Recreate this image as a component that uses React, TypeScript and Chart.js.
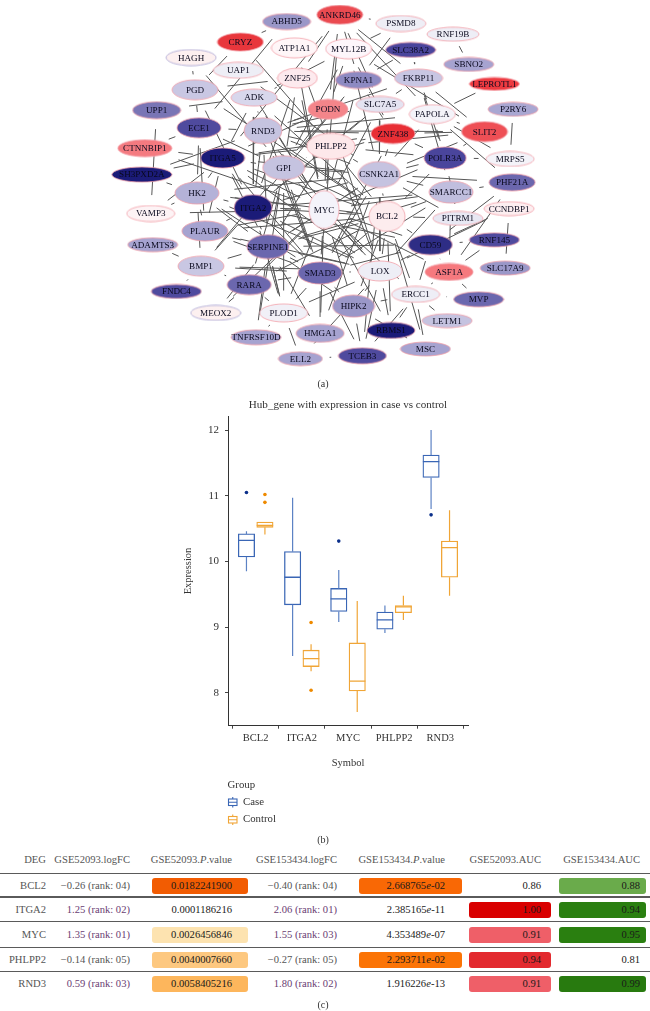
import React, { useEffect, useRef } from "react";
import { Chart, registerables } from "chart.js";

Chart.register(...registerables);

const SERIF = '"Liberation Serif", serif';

// ---------- network (a) ----------
const nodeNames = ["ABHD5","ANKRD46","CRYZ","ATP1A1","HAGH","UAP1","MYL12B","PSMD8","RNF19B","SLC38A2","SBNO2","LEPROTL1","ZNF25","PGD","ADK","KPNA1","FKBP11","P2RY6","UPP1","ECE1","RND3","PODN","SLC7A5","PAPOLA","ZNF438","SLIT2","CTNNBIP1","ITGA5","GPI","PHLPP2","CSNK2A1","POLR3A","MRPS5","PHF21A","SH3PXD2A","HK2","VAMP3","ITGA2","MYC","BCL2","SMARCC1","PITRM1","CCNDBP1","PLAUR","ADAMTS3","SERPINE1","CD59","RNF145","BMP1","LOX","ASF1A","SLC17A9","SMAD3","RARA","FNDC4","MEOX2","PLOD1","ERCC1","MVP","HIPK2","LETM1","TNFRSF10D","HMGA1","RBMS1","ELL2","TCEB3","MSC"];
const nodeX = [286,340,239,294,189,237,349,402,455,412,471,497,297,193,253,359,420,516,154,197,262,328,381,434,394,487,142,221,283,331,380,447,513,515,139,195,148,252,324,388,453,460,512,203,150,267,432,497,199,381,451,508,320,248,174,214,283,417,481,354,449,255,320,392,300,363,427];
const nodeY = [17,10,38,44,54,67,45,19,30,46,61,81,75,87,95,77,75,107,108,126,129,107,102,112,132,130,147,157,167,145,174,157,158,182,174,193,214,208,210,217,192,219,209,232,246,248,246,241,268,273,274,270,275,287,294,316,316,297,302,309,324,341,337,334,363,360,353];
const nodeRx = [24,23,23,23,25,25,23,25,26,25,25,25,20,23,23,23,24,25,24,22,19,20,24,23,22,23,27,22,21,24,21,21,24,23,30,22,24,19,15,18,22,25,25,23,25,21,22,25,23,22,24,25,22,22,25,25,24,24,25,21,25,25,24,24,22,24,25];
const nodeRy = [8,9.5,9,10,8,8,10,8,7,7.5,7,6.5,10,10,8.5,8.5,9,7,8.5,10,13,10,8,9.5,10,10,8.5,10,12,13,13,11,7.5,8.5,7.5,11,8,13,19,15,11,7,7,10,7,12,10,7,10,10,8.5,7,11,10,7,7.5,9,8,7.5,11,7,7.5,9,8,7,8,7];
const nodeFill = ["#9a97c8","#ea4a50","#e8363c","#fff6f8","#fdf0f0","#eeeef6","#fdf6fb","#eeeef6","#eeeef6","#4a459c","#a6a3d0","#ee3a40","#fdeaee","#c9c7e3","#d8d7ec","#8d8ac2","#c8c6e3","#a9a7d2","#7975b5","#4f4a9e","#c5c3e0","#f4858a","#e4e3f1","#f4f3f9","#e82f35","#ee4f55","#f47a80","#1b1b78","#c5c3e0","#fde8ea","#c5c3e0","#4a459c","#f4f3f9","#6b67ae","#1b1b78","#b4b2d8","#fdf3f5","#1b1b78","#f4f3fa","#fdecee","#c0bede","#e8e8f3","#fdeef0","#a6a3d0","#a6a3d0","#6b67ae","#2e2d85","#4f4a9e","#c9c7e3","#eeeef6","#f6797e","#9a97c8","#6b67ae","#6b67ae","#4f4a9e","#fdf0f0","#f1f0f7","#eeeef6","#6b67ae","#9a97c8","#c5c3e0","#a6a3d0","#a6a3d0","#1b1b78","#a6a3d0","#4f4a9e","#a6a3d0"];
const edgeList = [
"CRYZ-ABHD5","ABHD5-ATP1A1","ABHD5-ECE1","CRYZ-PGD","CRYZ-PHLPP2","HAGH-PGD","HAGH-GPI","UAP1-CSNK2A1","UAP1-MYC","ATP1A1-ZNF25","ATP1A1-PHLPP2","ATP1A1-MYC","ZNF25-ADK","ZNF25-GPI","ZNF25-ITGA2","ZNF25-PGD","ZNF25-MYC","PGD-ECE1","PGD-ITGA2","PGD-BCL2","UPP1-ECE1","UPP1-ADK","UPP1-VAMP3","CTNNBIP1-ITGA5","CTNNBIP1-ECE1","CTNNBIP1-MYC","SH3PXD2A-ITGA5","SH3PXD2A-HK2","SH3PXD2A-RND3","ECE1-HK2","ECE1-PLAUR","ECE1-RND3","ECE1-GPI","VAMP3-HK2","VAMP3-MYC","VAMP3-ITGA5","PLAUR-HK2","HK2-BMP1","HK2-ITGA5","HK2-MYC","BMP1-FNDC4","BMP1-ADAMTS3","BMP1-RARA","BMP1-SMAD3","BMP1-ITGA2","BMP1-SERPINE1","BMP1-GPI","BMP1-LOX","RARA-MEOX2","MEOX2-SERPINE1","MEOX2-MYC","RARA-SMAD3","RARA-GPI","RARA-PLOD1","RARA-BCL2","RARA-MYC","PLOD1-TNFRSF10D","TNFRSF10D-SERPINE1","TNFRSF10D-GPI","PLOD1-HMGA1","PLOD1-SERPINE1","PLOD1-GPI","PLOD1-ITGA2","PLOD1-MYC","ELL2-TCEB3","ELL2-PLOD1","HMGA1-MYC","HMGA1-SMAD3","HMGA1-CSNK2A1","TCEB3-ERCC1","TCEB3-HIPK2","TCEB3-LOX","TCEB3-SMAD3","TCEB3-CSNK2A1","RBMS1-LOX","RBMS1-ERCC1","RBMS1-BCL2","RBMS1-MYC","MSC-ERCC1","MSC-HIPK2","MSC-BCL2","HIPK2-LOX","HIPK2-ERCC1","HIPK2-MYC","HIPK2-BCL2","ERCC1-MVP","ERCC1-LETM1","ERCC1-ASF1A","ERCC1-CD59","ERCC1-MYC","ERCC1-BCL2","ASF1A-MVP","ASF1A-RNF145","ASF1A-PHF21A","ASF1A-CD59","ASF1A-SMARCC1","ASF1A-MYC","SLC17A9-CCNDBP1","P2RY6-MRPS5","MRPS5-PHF21A","MRPS5-POLR3A","MRPS5-PAPOLA","PHF21A-SMARCC1","PHF21A-CSNK2A1","PHF21A-CD59","CCNDBP1-LOX","CCNDBP1-CD59","RNF145-CD59","PITRM1-SMARCC1","PITRM1-CSNK2A1","PITRM1-POLR3A","POLR3A-SLIT2","POLR3A-CSNK2A1","POLR3A-ZNF438","POLR3A-PHLPP2","POLR3A-BCL2","POLR3A-MYC","LEPROTL1-PAPOLA","SBNO2-RNF19B","PSMD8-ANKRD46","PSMD8-MYL12B","PSMD8-KPNA1","SLC38A2-FKBP11","SLC38A2-KPNA1","FKBP11-SLIT2","FKBP11-SMARCC1","FKBP11-PAPOLA","FKBP11-POLR3A","FKBP11-SLC7A5","FKBP11-RND3","KPNA1-SLC7A5","KPNA1-ANKRD46","KPNA1-ZNF438","KPNA1-MYC","KPNA1-ITGA2","KPNA1-GPI","PAPOLA-SLIT2","PAPOLA-ZNF438","PAPOLA-POLR3A","PAPOLA-PHF21A","PAPOLA-RND3","PAPOLA-CSNK2A1","ANKRD46-MYC","ANKRD46-FKBP11","ANKRD46-SLC7A5","ANKRD46-PODN","ANKRD46-PAPOLA","ANKRD46-ZNF25","ANKRD46-ITGA5","MYL12B-GPI","MYL12B-CSNK2A1","MYL12B-ZNF438","MYL12B-PODN","MYL12B-SLIT2","MYL12B-ADK","SLIT2-ZNF438","SLIT2-RND3","SLIT2-PHLPP2","SLIT2-CSNK2A1","ZNF438-RND3","ZNF438-GPI","ZNF438-PHLPP2","ZNF438-ITGA5","ZNF438-CSNK2A1","ZNF438-SMAD3","PODN-MYC","PODN-ITGA5","PODN-RND3","PODN-LOX","PODN-GPI","SLC7A5-MYC","SLC7A5-ITGA2","SLC7A5-PHLPP2","SLC7A5-CSNK2A1","SLC7A5-RND3","ADK-RND3","ADK-ITGA5","ADK-MYC","ADK-ITGA2","ADK-BCL2","ADK-SMAD3","RND3-GPI","RND3-MYC","RND3-BCL2","RND3-ITGA2","RND3-PHLPP2","RND3-CSNK2A1","RND3-SERPINE1","RND3-SMAD3","RND3-LOX","ITGA5-ITGA2","ITGA5-SERPINE1","ITGA5-GPI","ITGA5-MYC","ITGA5-BCL2","ITGA5-CSNK2A1","ITGA5-SMAD3","ITGA5-LOX","ITGA5-PLAUR","ITGA5-PHLPP2","GPI-ITGA2","GPI-MYC","GPI-BCL2","GPI-CSNK2A1","GPI-SERPINE1","GPI-SMAD3","GPI-PHLPP2","GPI-LOX","PHLPP2-MYC","PHLPP2-BCL2","PHLPP2-CSNK2A1","PHLPP2-ITGA2","PHLPP2-SERPINE1","PHLPP2-SMAD3","PHLPP2-LOX","CSNK2A1-MYC","CSNK2A1-BCL2","CSNK2A1-ITGA2","CSNK2A1-SERPINE1","CSNK2A1-SMAD3","CSNK2A1-SMARCC1","CSNK2A1-LOX","CSNK2A1-HK2","HK2-ITGA2","HK2-SERPINE1","HK2-SMAD3","HK2-BCL2","HK2-LOX","ITGA2-SERPINE1","ITGA2-MYC","ITGA2-BCL2","ITGA2-SMAD3","ITGA2-LOX","ITGA2-PLAUR","ITGA2-SMARCC1","ITGA2-CD59","MYC-SERPINE1","MYC-BCL2","MYC-SMAD3","MYC-LOX","MYC-SMARCC1","MYC-CD59","MYC-PLAUR","BCL2-SERPINE1","BCL2-SMAD3","BCL2-LOX","BCL2-CD59","BCL2-SMARCC1","BCL2-PITRM1","SMARCC1-LOX","SMARCC1-SMAD3","SMARCC1-SERPINE1","CD59-LOX","CD59-SMAD3","CD59-SERPINE1","PLAUR-SERPINE1","PLAUR-SMAD3","PLAUR-BCL2","PLAUR-LOX","SERPINE1-SMAD3","SERPINE1-LOX","SERPINE1-PLOD1","SERPINE1-HIPK2","SERPINE1-HMGA1","SMAD3-LOX","SMAD3-HIPK2","SMAD3-PLOD1","LOX-PLOD1","LOX-ELL2"
];

// ---------- boxplot (b) ----------
const symbols = ["BCL2","ITGA2","MYC","PHLPP2","RND3"];
const groups = ["Case","Control"];
const caseUpper = [10.46,10.97,9.87,9.33,12.0];
const caseQ3 = [10.42,10.15,9.59,9.23,11.62];
const caseMedian = [10.32,9.76,9.43,9.11,11.52];
const caseQ1 = [10.07,9.34,9.24,8.97,11.28];
const caseLower = [9.85,8.56,9.08,8.91,10.80];
const caseOutliers = [[1,11.05],[3,10.31],[5,10.71]];
const controlUpper = [10.60,8.74,9.40,9.48,10.78];
const controlQ3 = [10.60,8.65,8.76,9.33,10.31];
const controlMedian = [10.55,8.52,8.18,9.31,10.21];
const controlQ1 = [10.52,8.40,8.03,9.22,9.76];
const controlLower = [10.41,8.33,7.71,9.11,9.48];
const controlOutliers = [[1,11.02],[1,10.90],[2,9.07],[2,8.04]];

// ---------- table (c) ----------
const tableHeaders = ["DEG","GSE52093.logFC","GSE52093.P.value","GSE153434.logFC","GSE153434.P.value","GSE52093.AUC","GSE153434.AUC"];
const degNames = ["BCL2","ITGA2","MYC","PHLPP2","RND3"];
const logFC52093 = ["−0.26 (rank: 04)","1.25 (rank: 02)","1.35 (rank: 01)","−0.14 (rank: 05)","0.59 (rank: 03)"];
const pValue52093 = ["0.0182241900","0.0001186216","0.0026456846","0.0040007660","0.0058405216"];
const logFC153434 = ["−0.40 (rank: 04)","2.06 (rank: 01)","1.55 (rank: 03)","−0.27 (rank: 05)","1.80 (rank: 02)"];
const pValue153434 = ["2.668765e-02","2.385165e-11","4.353489e-07","2.293711e-02","1.916226e-13"];
const auc52093 = ["0.86","1.00","0.91","0.94","0.91"];
const auc153434 = ["0.88","0.94","0.95","0.81","0.99"];
const p1Colors = ["#f25c02","","#fde3b0","#fdc880","#fdb65c"];
const p2Colors = ["#f96805","","","#fb7406",""];
const a1Colors = ["","#d90000","#ef5f68","#e32a2f","#ef5f68"];
const a2Colors = ["#6aab4b","#2a7f10","#2a7f10","","#287a0f"];

function nodeIndex(name: string) { return nodeNames.indexOf(name); }

function trimmedEdgePoints() {
  const pts: { x: number; y: number }[] = [];
  edgeList.forEach((e) => {
    const [a, b] = e.split("-").map(nodeIndex);
    if (a < 0 || b < 0) return;
    const dx = nodeX[b] - nodeX[a], dy = nodeY[b] - nodeY[a];
    const len = Math.hypot(dx, dy);
    const ux = dx / len, uy = dy / len;
    const gap = 3.5 + 0.07 * len;
    const reach = (i: number) => 1 / Math.hypot(ux / nodeRx[i], uy / nodeRy[i]) + gap;
    const ra = reach(a), rb = reach(b);
    if (ra + rb >= len) return;
    pts.push({ x: nodeX[a] + ux * ra, y: nodeY[a] + uy * ra });
    pts.push({ x: nodeX[b] - ux * rb, y: nodeY[b] - uy * rb });
    pts.push({ x: NaN, y: NaN });
  });
  return pts;
}

function nodeSprite(i: number) {
  const c = document.createElement("canvas");
  const rx = nodeRx[i], ry = nodeRy[i];
  c.width = Math.ceil(rx * 2 + 2);
  c.height = Math.ceil(ry * 2 + 2);
  const g = c.getContext("2d")!;
  g.beginPath();
  g.ellipse(c.width / 2, c.height / 2, rx, ry, 0, 0, Math.PI * 2);
  g.fillStyle = nodeFill[i];
  g.fill();
  g.lineWidth = 0.8;
  g.strokeStyle = nodeNames[i] === "MEOX2" || nodeNames[i] === "HAGH" ? "#a9a5d3" : "#f3a0a8";
  g.stroke();
  return c;
}

const nodeLabelPlugin = {
  id: "nodeLabels",
  afterDatasetsDraw(chart: any) {
    const meta = chart.getDatasetMeta(0);
    const ctx = chart.ctx;
    ctx.save();
    ctx.font = `9.1px ${SERIF}`;
    ctx.fillStyle = "#08081c";
    ctx.textAlign = "center";
    ctx.textBaseline = "middle";
    meta.data.forEach((p: any, i: number) => ctx.fillText(nodeNames[i], p.x, p.y + 0.5));
    ctx.restore();
  },
};

const BLUE = "#3a66b5";
const ORANGE = "#f0a536";

function boxOf(offset: number, lo: number[], hi: number[]) {
  return symbols.map((_, i) => ({ x: i + 1 + offset, y: [lo[i], hi[i]] }));
}
function whiskers(offset: number, lower: number[], q1: number[], q3: number[], upper: number[]) {
  const out: { x: number; y: number }[] = [];
  symbols.forEach((_, i) => {
    const x = i + 1 + offset;
    out.push({ x, y: upper[i] }, { x, y: q3[i] }, { x: NaN, y: NaN });
    out.push({ x, y: q1[i] }, { x, y: lower[i] }, { x: NaN, y: NaN });
  });
  return out;
}
function medians(offset: number, med: number[]) {
  const out: { x: number; y: number }[] = [];
  const HALF = 0.178;
  symbols.forEach((_, i) => {
    const x = i + 1 + offset;
    out.push({ x: x - HALF, y: med[i] }, { x: x + HALF, y: med[i] }, { x: NaN, y: NaN });
  });
  return out;
}

const boxLegendPlugin = {
  id: "boxLegend",
  afterDraw(chart: any) {
    const ctx = chart.ctx;
    const left = chart.chartArea.left;
    ctx.save();
    ctx.font = `10.8px ${SERIF}`;
    ctx.textBaseline = "middle";
    ctx.textAlign = "left";
    ctx.fillStyle = "#333";
    ctx.fillText("Group", left - 0.5, 390.5);
    groups.forEach((g, i) => {
      const y = 407 + i * 17.5;
      const col = i === 0 ? BLUE : ORANGE;
      ctx.strokeStyle = col;
      ctx.lineWidth = 1.1;
      ctx.strokeRect(left + 0.5, y - 3, 8.5, 6.5);
      ctx.beginPath();
      ctx.moveTo(left + 0.5, y + 0.2);
      ctx.lineTo(left + 9, y + 0.2);
      ctx.moveTo(left + 4.75, y - 5);
      ctx.lineTo(left + 4.75, y - 3);
      ctx.moveTo(left + 4.75, y + 3.5);
      ctx.lineTo(left + 4.75, y + 5.5);
      ctx.stroke();
      ctx.fillStyle = "#333";
      ctx.fillText(g, left + 15, y);
    });
    ctx.restore();
  },
};

const abs = (left: number, top: number, width: number, height: number): React.CSSProperties => ({
  position: "absolute", left, top, width, height,
});

function Rich({ text }: { text: string }) {
  const m = text.match(/^(.*\.)P(\.value)$/) || null;
  if (m) return <>{m[1]}<i>P</i>{m[2]}</>;
  const e = text.match(/^([\d.]+)e(-\d+)$/);
  if (e) return <>{e[1]}<i>e</i>{e[2]}</>;
  return <>{text}</>;
}

const rowCenters = [885.5, 910, 935, 960, 984];
const ruleYs = [873, 896, 921, 946.5, 971];
const ruleH = [1, 1.6, 1.3, 1.3, 1];

function Cell({ cy, left, right, text, color, bg, bgLeft, bgRight }: any) {
  return (
    <>
      {bg ? <div style={{ ...abs(bgLeft, cy - 8, bgRight - bgLeft, 16), background: bg, borderRadius: 3 }} /> : null}
      <div style={{ ...abs(left, cy - 8, right - left, 16), lineHeight: "16px", textAlign: "right", color, whiteSpace: "nowrap" }}>
        <Rich text={text} />
      </div>
    </>
  );
}

export default function App() {
  const netRef = useRef<HTMLCanvasElement>(null);
  const boxRef = useRef<HTMLCanvasElement>(null);

  useEffect(() => {
    const net = new Chart(netRef.current!, {
      type: "scatter",
      data: {
        datasets: [
          {
            label: "genes",
            data: nodeNames.map((_, i) => ({ x: nodeX[i], y: nodeY[i] })),
            pointStyle: nodeNames.map((_, i) => nodeSprite(i)) as any,
            order: 1,
          },
          {
            label: "links",
            data: trimmedEdgePoints(),
            showLine: true,
            spanGaps: false,
            pointRadius: 0,
            borderColor: "#555555",
            borderWidth: 1,
            order: 2,
          },
        ],
      },
      options: {
        animation: false,
        responsive: false,
        plugins: { legend: { display: false }, tooltip: { enabled: false } },
        layout: { padding: 0 },
        scales: {
          x: { type: "linear", min: 0, max: 650, display: false },
          y: { type: "linear", min: 0, max: 390, reverse: true, display: false },
        },
      },
      plugins: [nodeLabelPlugin],
    } as any);

    const axisText = { family: SERIF, size: 10.5 };
    const fixedTicks = (vals: number[]) => (scale: any) => {
      scale.ticks = vals.map((value) => ({ value }));
    };
    const box = new Chart(boxRef.current!, {
      type: "bar",
      data: {
        datasets: [
          { type: "bar", label: "Case", data: boxOf(-0.2, caseQ1, caseQ3) as any, backgroundColor: "#ffffff", borderColor: BLUE, borderWidth: 1.3, borderSkipped: false, barThickness: 16.4, grouped: false, order: 2 },
          { type: "bar", label: "Control", data: boxOf(0.2, controlQ1, controlQ3) as any, backgroundColor: "#ffffff", borderColor: ORANGE, borderWidth: 1.3, borderSkipped: false, barThickness: 16.4, grouped: false, order: 2 },
          { type: "scatter", label: "Case whiskers", data: whiskers(-0.2, caseLower, caseQ1, caseQ3, caseUpper) as any, showLine: true, spanGaps: false, pointRadius: 0, borderColor: "#5c82c4", borderWidth: 1.2, order: 1 },
          { type: "scatter", label: "Control whiskers", data: whiskers(0.2, controlLower, controlQ1, controlQ3, controlUpper) as any, showLine: true, spanGaps: false, pointRadius: 0, borderColor: ORANGE, borderWidth: 1.2, order: 1 },
          { type: "scatter", label: "Case medians", data: medians(-0.2, caseMedian) as any, showLine: true, spanGaps: false, pointRadius: 0, borderColor: BLUE, borderWidth: 1.3, order: 1 },
          { type: "scatter", label: "Control medians", data: medians(0.2, controlMedian) as any, showLine: true, spanGaps: false, pointRadius: 0, borderColor: ORANGE, borderWidth: 1.3, order: 1 },
          { type: "scatter", label: "Case outliers", data: caseOutliers.map(([s, y]) => ({ x: s - 0.2, y })) as any, pointRadius: 1.8, backgroundColor: "#0b2f8a", borderWidth: 0, order: 0 },
          { type: "scatter", label: "Control outliers", data: controlOutliers.map(([s, y]) => ({ x: s + 0.2, y })) as any, pointRadius: 1.8, backgroundColor: "#ee8a00", borderWidth: 0, order: 0 },
        ],
      },
      options: {
        animation: false,
        responsive: false,
        layout: { padding: { left: 12, right: 12, top: 0, bottom: 65.3 } },
        plugins: {
          legend: { display: false },
          tooltip: { enabled: false },
          title: {
            display: true,
            text: "Hub_gene with expression in case vs control",
            fullSize: false,
            color: "#333",
            font: { family: SERIF, size: 11.1, weight: "normal" },
            padding: { top: 3, bottom: 5 },
          },
        },
        scales: {
          x: {
            type: "linear",
            min: 0.4,
            max: 5.6,
            offset: false,
            afterBuildTicks: fixedTicks([1, 2, 3, 4, 5]),
            afterFit: (s: any) => { s.height = 44; },
            border: { display: true, color: "#333", width: 1 },
            grid: { display: true, drawOnChartArea: false, drawTicks: true, tickLength: 3, color: "#444" },
            ticks: { color: "#333", font: axisText, padding: 3, maxRotation: 0, autoSkip: false, callback: (v: any) => symbols[Number(v) - 1] },
            title: { display: true, text: "Symbol", color: "#333", font: axisText, padding: { top: 8, bottom: 0 } },
          },
          y: {
            type: "linear",
            min: 7.5,
            max: 12.21,
            afterBuildTicks: fixedTicks([8, 9, 10, 11, 12]),
            afterFit: (s: any) => { s.width = 46; },
            border: { display: true, color: "#333", width: 1 },
            grid: { display: true, drawOnChartArea: false, drawTicks: true, tickLength: 3, color: "#444" },
            ticks: { color: "#333", font: { family: SERIF, size: 11 }, padding: 6, callback: (v: any) => String(v) },
            title: { display: true, text: "Expression", color: "#333", font: axisText, padding: { top: 0, bottom: 0 } },
          },
        },
      },
      plugins: [boxLegendPlugin],
    } as any);

    return () => {
      net.destroy();
      box.destroy();
    };
  }, []);

  const caption = (t: string, y: number) => (
    <div style={{ ...abs(300, y - 7, 46, 14), textAlign: "center", lineHeight: "14px", fontSize: 10, color: "#333" }}>{t}</div>
  );

  const GREY = "#555";
  const PURPLE = "#6a3d72";
  const textCol = (s: string) => (s.startsWith("−") ? GREY : PURPLE);
  const colRight = [46, 130, 232, 337, 445, 541, 640];
  const colLeft = [0, 50, 140, 250, 350, 460, 555];

  return (
    <div style={{ position: "absolute", left: 0, top: 0, width: 650, height: 1011, background: "#fff", fontFamily: SERIF, fontSize: 10.6, overflow: "hidden" }}>
      <canvas ref={netRef} width={650} height={390} style={{ ...abs(0, 0, 650, 390), display: "block" }} />
      {caption("(a)", 384)}
      <canvas ref={boxRef} width={310} height={440} style={{ ...abs(170, 395, 310, 440), display: "block" }} />
      {caption("(b)", 840)}
      {tableHeaders.map((h, i) => (
        <Cell key={i} cy={860} left={colLeft[i]} right={colRight[i]} text={h} color={GREY} />
      ))}
      {ruleYs.map((y, i) => (
        <div key={i} style={{ ...abs(0, y, 650, ruleH[i]), background: "#5a5a5a" }} />
      ))}
      {degNames.map((d, i) => {
        const cy = rowCenters[i];
        return (
          <React.Fragment key={d}>
            <Cell cy={cy} left={colLeft[0]} right={colRight[0]} text={d} color={GREY} />
            <Cell cy={cy} left={colLeft[1]} right={colRight[1]} text={logFC52093[i]} color={textCol(logFC52093[i])} />
            <Cell cy={cy} left={colLeft[2]} right={colRight[2]} bgLeft={152} bgRight={248} bg={p1Colors[i]} text={pValue52093[i]} color="#1a1a1a" />
            <Cell cy={cy} left={colLeft[3]} right={colRight[3]} text={logFC153434[i]} color={textCol(logFC153434[i])} />
            <Cell cy={cy} left={colLeft[4]} right={colRight[4]} bgLeft={359} bgRight={462} bg={p2Colors[i]} text={pValue153434[i]} color="#1a1a1a" />
            <Cell cy={cy} left={colLeft[5]} right={colRight[5]} bgLeft={469} bgRight={551} bg={a1Colors[i]} text={auc52093[i]} color="#1a1a1a" />
            <Cell cy={cy} left={colLeft[6]} right={colRight[6]} bgLeft={559} bgRight={646} bg={a2Colors[i]} text={auc153434[i]} color="#1a1a1a" />
          </React.Fragment>
        );
      })}
      {caption("(c)", 1005)}
    </div>
  );
}
